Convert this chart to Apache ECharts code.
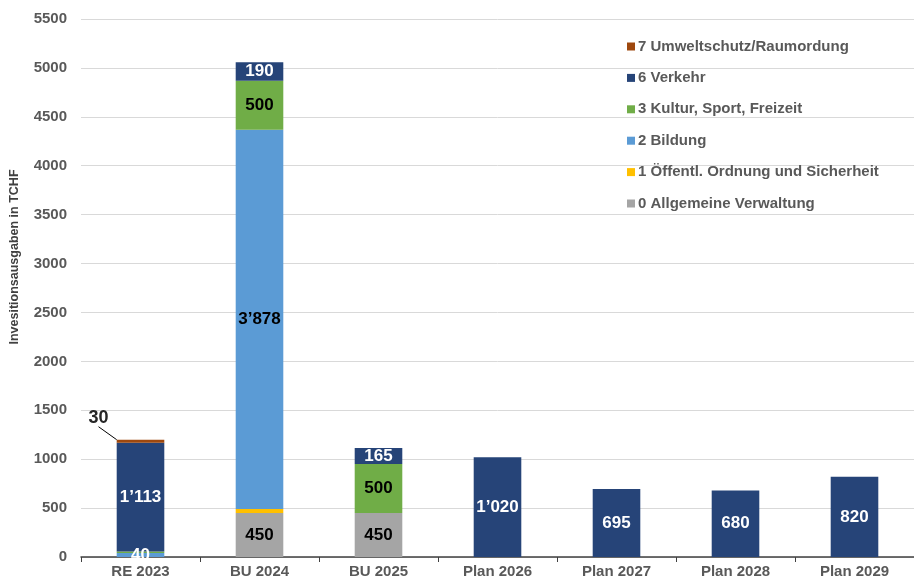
<!DOCTYPE html>
<html>
<head>
<meta charset="utf-8">
<script src="https://cdn.jsdelivr.net/npm/echarts@6/dist/echarts.min.js"></script>
<style>
  html, body { margin: 0; padding: 0; background: #fff; }
  #chart { width: 914px; height: 581px; }
</style>
</head>
<body>
<div id="chart"></div>
<script>
  // Kategorien und Werte (TCHF)
  var categories = ['RE 2023', 'BU 2024', 'BU 2025', 'Plan 2026', 'Plan 2027', 'Plan 2028', 'Plan 2029'];
  var verwaltung = [0, 450, 450, 0, 0, 0, 0];
  var ordnung    = [0, 40, 0, 0, 0, 0, 0];
  var bildung    = [40, 3878, 0, 0, 0, 0, 0];
  var kultur     = [16, 500, 500, 0, 0, 0, 0];
  var verkehr    = [1113, 190, 165, 1020, 695, 680, 820];
  var umwelt     = [30, 0, 0, 0, 0, 0, 0];
  var yTicks = { min: 0, max: 5500, interval: 500 };

  var names = ['0 Allgemeine Verwaltung', '1 Öffentl. Ordnung und Sicherheit', '2 Bildung',
               '3 Kultur, Sport, Freizeit', '6 Verkehr', '7 Umweltschutz/Raumordung'];
  var colors = ['#A5A5A5', '#FFC000', '#5B9BD5', '#70AD47', '#264478', '#9E480E'];

  function fmt(v) {
    if (v >= 1000) {
      var r = String(v % 1000);
      while (r.length < 3) r = '0' + r;
      return Math.floor(v / 1000) + '\u2019' + r;
    }
    return String(v);
  }

  function lbl(minVal, color) {
    return {
      show: true,
      position: 'inside',
      color: color,
      fontFamily: 'Liberation Sans',
      fontWeight: 'bold',
      fontSize: 17,
      formatter: function (p) { return p.value >= minVal ? fmt(p.value) : ''; }
    };
  }

  function bar(i, data, label) {
    return {
      name: names[i],
      type: 'bar',
      stack: 'total',
      barWidth: '40%',
      data: data.map(function (v) { return v === 0 ? null : v; }),
      itemStyle: { color: colors[i] },
      label: label || { show: false },
      emphasis: { disabled: true }
    };
  }

  var sBildung = bar(2, bildung, lbl(1, '#000'));
  sBildung.data[0] = { value: bildung[0], label: { color: '#fff' } };

  var sUmwelt = bar(5, umwelt, {
    show: true,
    position: 'top',
    color: '#262626',
    fontFamily: 'Liberation Sans',
    fontWeight: 'bold',
    fontSize: 18,
    formatter: function (p) { return fmt(p.value); }
  });
  sUmwelt.labelLayout = { dx: -42, dy: -8 };
  sUmwelt.labelLine = { show: true, lineStyle: { color: '#000', width: 1 } };

  var series = [
    bar(0, verwaltung, lbl(100, '#000')),
    bar(1, ordnung),
    sBildung,
    bar(3, kultur, lbl(100, '#000')),
    bar(4, verkehr, lbl(1, '#fff')),
    sUmwelt
  ];

  var chart = echarts.init(document.getElementById('chart'));
  chart.setOption({
    animation: false,
    textStyle: { fontFamily: 'Liberation Sans' },
    grid: { left: 81, top: 19, width: 840, bottom: 24 },
    legend: {
      data: names.slice().reverse(),
      orient: 'vertical',
      left: 622,
      top: 34,
      itemWidth: 8,
      itemHeight: 8,
      itemGap: 16.4,
      icon: 'rect',
      textStyle: { color: '#595959', fontWeight: 'bold', fontSize: 15, padding: [0, 0, 0, -2] }
    },
    xAxis: {
      type: 'category',
      data: categories,
      axisLine: { lineStyle: { color: '#404040', width: 1.5 } },
      axisTick: { show: true, length: 5, lineStyle: { color: '#404040' } },
      axisLabel: { color: '#595959', fontWeight: 'bold', fontSize: 15, margin: 7 }
    },
    yAxis: {
      type: 'value',
      min: yTicks.min,
      max: yTicks.max,
      interval: yTicks.interval,
      axisLine: { show: false },
      axisTick: { show: false },
      splitLine: { lineStyle: { color: '#d9d9d9' } },
      axisLabel: {
        color: '#595959', fontWeight: 'bold', fontSize: 15, margin: 14,
        formatter: function (v) { return String(v); }
      }
    },
    graphic: [{
      type: 'text',
      x: 15,
      y: 257,
      rotation: Math.PI / 2,
      style: {
        text: 'Invesitionsausgaben in TCHF',
        fill: '#404040',
        font: 'bold 12.5px "Liberation Sans"',
        align: 'center',
        verticalAlign: 'middle'
      }
    }],
    series: series
  });
</script>
</body>
</html>
